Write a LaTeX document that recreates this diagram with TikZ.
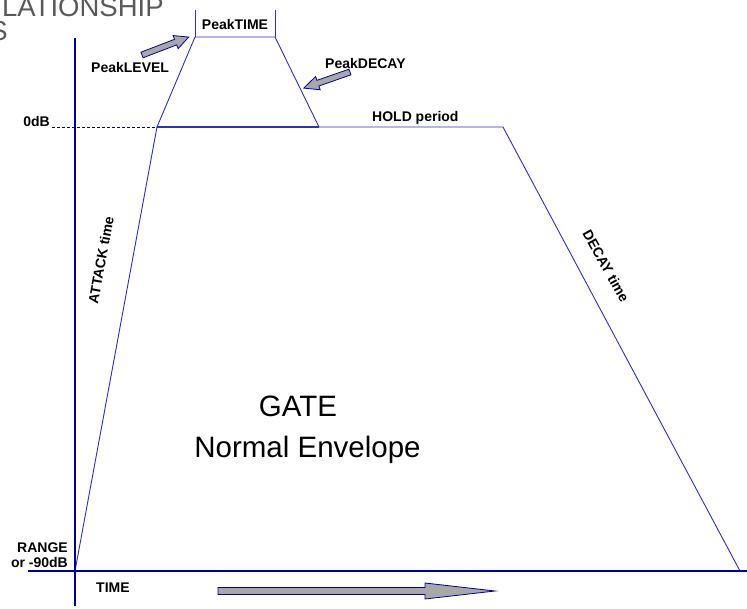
\documentclass[tikz,border=0pt]{standalone}
\usepackage{fontspec}
\setmainfont{Liberation Sans}
\usetikzlibrary{positioning}
\definecolor{axisblue}{RGB}{0,0,160}
\definecolor{envblue}{RGB}{45,45,200}
\definecolor{arrowgray}{RGB}{168,168,168}
\tikzset{
  axis/.style={draw=axisblue, line width=2.2pt},
  envline/.style={draw=envblue, line width=0.9pt},
  fatarrow/.style={draw=axisblue, fill=arrowgray, line width=0.8pt, line join=miter},
  lbl/.style={font=\fontsize{14}{17}\selectfont\bfseries, inner sep=0pt},
  biglbl/.style={font=\fontsize{29.5}{34}\selectfont, inner sep=0pt}
}
\begin{document}
\begin{tikzpicture}[x=1pt, y=-1pt]
  \useasboundingbox (0,0) rectangle (747,608);
  \clip (0,0) rectangle (747,608);
  % cut-off heading at the top
  \node[anchor=base west, inner sep=0pt, text=black!65, font=\fontsize{27.5}{30}\selectfont] (head) at (2,16) {LATIONSHIP};
  \node[anchor=base east, inner sep=0pt, text=black!65, font=\fontsize{27.5}{30}\selectfont] (heads) at (8,40) {S};
  % envelope points
  \coordinate (org) at (75,571);
  \coordinate (atk) at (157,127);
  \coordinate (hold) at (503,127);
  \coordinate (end) at (740,571);
  \coordinate (pk1) at (195,37);
  \coordinate (pk2) at (275,37);
  \coordinate (pk3) at (319,127);
  \coordinate (tk1) at (195,10);
  \coordinate (tk2) at (275,10);
  \coordinate (zero) at (52,127);
  % envelope
  \draw[envline] (org) -- (atk) -- (hold) -- (end);
  \draw[envline] (atk) -- (pk1) -- (pk2) -- (pk3);
  \draw[draw=envblue, line width=2pt] (atk) -- (pk3);
  \draw[envline] (pk1) -- (tk1);
  \draw[envline] (pk2) -- (tk2);
  \draw[draw=axisblue, line width=0.9pt, dash pattern=on 3pt off 2pt] (zero) -- (atk);
  % axes
  \coordinate (ytop) at (75,38);
  \coordinate (ybot) at (75,606);
  \coordinate (xleft) at (28,571);
  \coordinate (xright) at (747,571);
  \draw[axis] (ytop) -- (ybot);
  \draw[axis] (xleft) -- (xright);
  % fat arrows
  \begin{scope}[shift={(142,55)}, rotate=21]
    \draw[fatarrow] (0,-3) -- (36,-3) -- (36,-7) -- (50,0) -- (36,7) -- (36,3) -- (0,3) -- cycle;
  \end{scope}
  \begin{scope}[shift={(350,72)}, rotate=199.2]
    \draw[fatarrow] (0,-3) -- (34,-3) -- (34,-7) -- (49,0) -- (34,7) -- (34,3) -- (0,3) -- cycle;
  \end{scope}
  \draw[fatarrow] (218,587.5) -- (425,587.5) -- (425,583) -- (495,591) -- (425,599) -- (425,594.5) -- (218,594.5) -- cycle;
  % labels
  \node[lbl, anchor=base] (ptime) at (235,29) {PeakTIME};
  \node[lbl, anchor=base west] (plevel) at (91,72) {PeakLEVEL};
  \node[lbl, anchor=base west] (pdecay) at (325,68) {PeakDECAY};
  \node[lbl, anchor=base west] (holdp) at (372,121) {HOLD period};
  \node[lbl, anchor=base east] (zdb) at (50,126) {0dB};
  \node[lbl, anchor=base east] (rng) at (68,552) {RANGE};
  \node[lbl, anchor=base east] (rngdb) at (68,567) {or -90dB};
  \node[lbl, anchor=base west] (tm) at (96,592) {TIME};
  \node[lbl, rotate=79.5] (atkt) at (101,260) {ATTACK time};
  \node[lbl, rotate=-61] (dect) at (606,266) {DECAY time};
  \node[biglbl, anchor=base] (gate) at (298,416) {GATE};
  \node[biglbl, anchor=base] (norm) at (307.5,457) {Normal Envelope};
\end{tikzpicture}
\end{document}
